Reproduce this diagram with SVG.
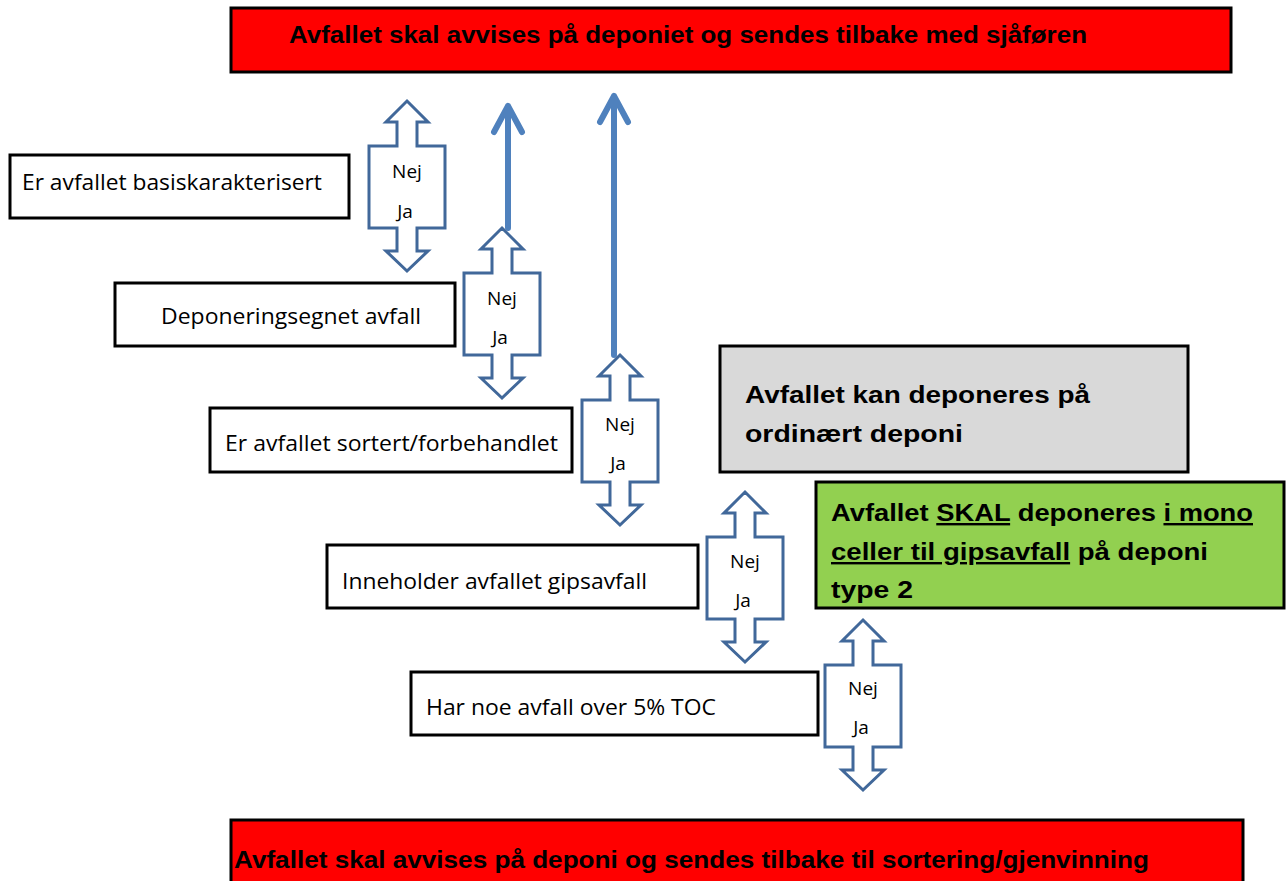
<svg xmlns="http://www.w3.org/2000/svg" xmlns:xlink="http://www.w3.org/1999/xlink" width="1287" height="881" viewBox="0 0 1287 881">
<style>
.box{fill:#fff;stroke:#000;stroke-width:3}
.red{fill:#ff0000;stroke:#000;stroke-width:3}
.t{font-family:"Open Sans","Liberation Sans",sans-serif;font-size:21px;fill:#000}
.b{font-family:"Liberation Sans",Arial,sans-serif;font-weight:bold;font-size:24px;fill:#000}
.yn{font-family:"Open Sans","Liberation Sans",sans-serif;font-size:19px;fill:#000;text-anchor:middle}
.dbl{fill:#fff;stroke:#41689a;stroke-width:3;stroke-linejoin:miter}
.solid{fill:none;stroke:#4f81bd;stroke-width:6;stroke-linecap:round;stroke-linejoin:round}
</style>
<defs>
<path id="dbl" class="dbl" d="M0,0 L21,21 L10,21 L10,45 L38,45 L38,127 L10,127 L10,150 L21,150 L0,170 L-21,150 L-10,150 L-10,127 L-38,127 L-38,45 L-10,45 L-10,21 L-21,21 Z"/>
</defs>
<g id="top-banner">
<rect class="red" x="231" y="8" width="1000" height="64"/>
<text class="b" x="289" y="43" textLength="798" lengthAdjust="spacingAndGlyphs">Avfallet skal avvises på deponiet og sendes tilbake med sjåføren</text>
</g>
<g id="bottom-banner">
<rect class="red" x="231" y="820" width="1012" height="70"/>
<text class="b" x="234" y="868" textLength="915" lengthAdjust="spacingAndGlyphs">Avfallet skal avvises på deponi og sendes tilbake til sortering/gjenvinning</text>
</g>
<g id="connectors">
<path class="solid" d="M508,228 L508,106 M494,132 L508,106 L522,132"/>
<path class="solid" d="M614,355 L614,96 M600,122 L614,96 L628,122"/>
<use xlink:href="#dbl" transform="translate(407,101)"/>
<use xlink:href="#dbl" transform="translate(502,228)"/>
<use xlink:href="#dbl" transform="translate(620,355)"/>
<use xlink:href="#dbl" transform="translate(745,492)"/>
<use xlink:href="#dbl" transform="translate(863,620)"/>
<text class="yn" x="407" y="178">Nej</text><text class="yn" x="405" y="218">Ja</text>
<text class="yn" x="502" y="305">Nej</text><text class="yn" x="500" y="344">Ja</text>
<text class="yn" x="620" y="431">Nej</text><text class="yn" x="618" y="470">Ja</text>
<text class="yn" x="745" y="568">Nej</text><text class="yn" x="743" y="607">Ja</text>
<text class="yn" x="863" y="695">Nej</text><text class="yn" x="861" y="734">Ja</text>
</g>
<g id="q1">
<rect class="box" x="10" y="155" width="339" height="63"/>
<text class="t" x="22" y="190" textLength="300" lengthAdjust="spacingAndGlyphs">Er avfallet basiskarakterisert</text>
</g>
<g id="q2">
<rect class="box" x="115" y="283" width="340" height="63"/>
<text class="t" x="161" y="324" textLength="260" lengthAdjust="spacingAndGlyphs">Deponeringsegnet avfall</text>
</g>
<g id="q3">
<rect class="box" x="210" y="408" width="362" height="64"/>
<text class="t" x="225" y="451" textLength="333" lengthAdjust="spacingAndGlyphs">Er avfallet sortert/forbehandlet</text>
</g>
<g id="q4">
<rect class="box" x="327" y="545" width="371" height="63"/>
<text class="t" x="342" y="589" textLength="305" lengthAdjust="spacingAndGlyphs">Inneholder avfallet gipsavfall</text>
</g>
<g id="q5">
<rect class="box" x="411" y="672" width="407" height="63"/>
<text class="t" x="426" y="715" textLength="290" lengthAdjust="spacingAndGlyphs">Har noe avfall over 5% TOC</text>
</g>
<g id="ordinary">
<rect x="720" y="346" width="468" height="126" fill="#d9d9d9" stroke="#000" stroke-width="3"/>
<text class="b" x="745" y="403" textLength="345" lengthAdjust="spacingAndGlyphs">Avfallet kan deponeres på</text>
<text class="b" x="745" y="442" textLength="218" lengthAdjust="spacingAndGlyphs">ordinært deponi</text>
</g>
<g id="gips">
<rect x="816" y="482" width="468" height="126" fill="#92d050" stroke="#000" stroke-width="3"/>
<text class="b" x="831" y="521" textLength="422" lengthAdjust="spacingAndGlyphs">Avfallet <tspan text-decoration="underline">SKAL</tspan> deponeres <tspan text-decoration="underline">i mono</tspan></text>
<text class="b" x="831" y="560" textLength="377" lengthAdjust="spacingAndGlyphs"><tspan text-decoration="underline">celler til gipsavfall</tspan> på deponi</text>
<text class="b" x="831" y="598" textLength="82" lengthAdjust="spacingAndGlyphs">type 2</text>
</g>
</svg>
